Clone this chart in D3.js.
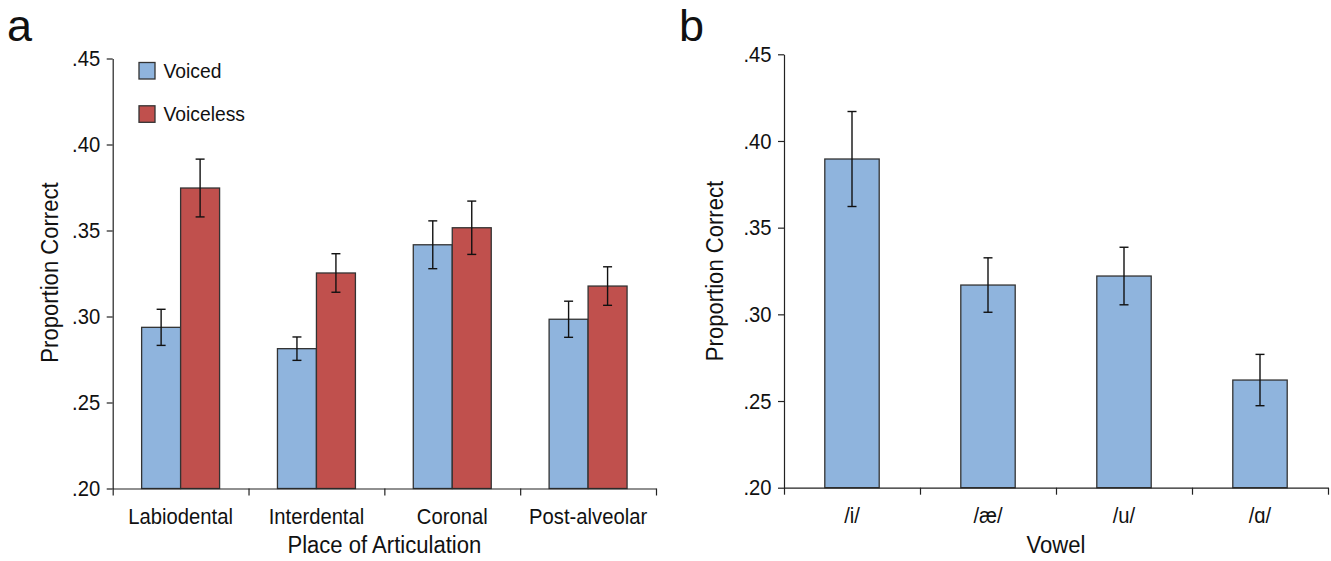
<!DOCTYPE html>
<html>
<head>
<meta charset="utf-8">
<script src="https://d3js.org/d3.v7.min.js"></script>
<style>
  body { margin: 0; background: #fff; }
  svg { font-family: "Liberation Sans", Arial, sans-serif; }
  .axis path, .axis line { stroke: #222; stroke-width: 1.2; }
  .axis text { font-size: 22px; fill: #111; font-family: "Liberation Sans", Arial, sans-serif; }
</style>
</head>
<body>
<svg id="chart" width="1331" height="561"></svg>
<script>
// Data
const places = ['Labiodental', 'Interdental', 'Coronal', 'Post-alveolar'];
const series = ['Voiced', 'Voiceless'];
const voicedMean = [0.2937, 0.2813, 0.3417, 0.2984];
const voicedErr = [0.0105, 0.0068, 0.0139, 0.0105];
const voicelessMean = [0.3747, 0.3253, 0.3516, 0.3177];
const voicelessErr = [0.0168, 0.0112, 0.0155, 0.0112];

const vowels = ['/i/', '/æ/', '/u/', '/ɑ/'];
const vowelMean = [0.3896, 0.3169, 0.3221, 0.2621];
const vowelErr = [0.0274, 0.0157, 0.0166, 0.0148];

const yTicks = [0.20, 0.25, 0.30, 0.35, 0.40, 0.45];

const colors = { Voiced: '#8fb4dd', Voiceless: '#c0504d' };
const fmt = d => d3.format('.2f')(d).replace(/^0/, '');

// squeeze text horizontally around its own anchor point (condensed look)
function squeeze(sel, k = 0.92) {
    sel.each(function() {
        const t = d3.select(this);
        const x = +(t.attr('x') || 0);
        const prev = t.attr('transform') || '';
        t.attr('transform', `${prev} translate(${x},0) scale(${k},1) translate(${-x},0)`);
    });
}

const svg = d3.select('#chart');

// ---------- panel a ----------
const a = { left: 112.7, right: 656, top: 58.5, bottom: 488.5 };

const yA = d3.scaleLinear().domain([0.20, 0.45]).range([a.bottom, a.top]);
const xA = d3.scaleBand().domain(places).range([a.left, a.right])
    .paddingInner(0.426).paddingOuter(0.213);
const xSub = d3.scaleBand().domain(series).range([0, xA.bandwidth()]);
const xTicksA = d3.scaleLinear().domain([0, places.length]).range([a.left, a.right]);

const dataA = [];
places.forEach((p, i) => {
    dataA.push({ place: p, s: 'Voiced', v: voicedMean[i], e: voicedErr[i] });
    dataA.push({ place: p, s: 'Voiceless', v: voicelessMean[i], e: voicelessErr[i] });
});

const gA = svg.append('g');

gA.append('g')
    .selectAll('rect')
    .data(dataA)
    .join('rect')
    .attr('x', d => xA(d.place) + xSub(d.s))
    .attr('y', d => yA(d.v))
    .attr('width', xSub.bandwidth())
    .attr('height', d => yA(0.20) - yA(d.v))
    .attr('fill', d => colors[d.s])
    .attr('stroke', '#333')
    .attr('stroke-width', 1.3);

// error bars
const errA = gA.append('g').selectAll('g').data(dataA).join('g')
    .attr('transform', d => `translate(${xA(d.place) + xSub(d.s) + xSub.bandwidth() / 2},0)`);
errA.append('line')
    .attr('y1', d => yA(d.v + d.e)).attr('y2', d => yA(d.v - d.e))
    .attr('stroke', '#111').attr('stroke-width', 1.4);
errA.selectAll('line.cap')
    .data(d => [d.v + d.e, d.v - d.e])
    .join('line').attr('class', 'cap')
    .attr('x1', -4.5).attr('x2', 4.5)
    .attr('y1', d => yA(d)).attr('y2', d => yA(d))
    .attr('stroke', '#111').attr('stroke-width', 1.4);

// axes
gA.append('g').attr('class', 'axis')
    .attr('transform', `translate(${a.left},0)`)
    .call(d3.axisLeft(yA).tickValues(yTicks).tickFormat(fmt).tickSize(6).tickSizeOuter(0).tickPadding(6.5))
    .call(g => squeeze(g.selectAll('text')));

gA.append('g').attr('class', 'axis')
    .attr('transform', `translate(0,${a.bottom})`)
    .call(d3.axisBottom(xTicksA).ticks(places.length).tickFormat('').tickSize(7).tickSizeOuter(0));

gA.append('g').attr('class', 'axis')
    .attr('transform', `translate(0,${a.bottom})`)
    .call(d3.axisBottom(xA).tickSize(0).tickPadding(19.5))
    .call(g => g.select('.domain').remove())
    .call(g => squeeze(g.selectAll('text')));

// legend
const legend = gA.append('g').selectAll('g').data(series).join('g')
    .attr('transform', (d, i) => `translate(139,${62.5 + i * 43.3})`);
legend.append('rect')
    .attr('width', 16).attr('height', 16.5)
    .attr('fill', d => colors[d]).attr('stroke', '#333').attr('stroke-width', 1.3);
legend.append('text')
    .attr('x', 24.5).attr('y', 8.3).attr('dy', '0.35em')
    .attr('font-size', 21).attr('fill', '#111')
    .text(d => d)
    .call(squeeze);

// titles
gA.append('text')
    .attr('transform', `translate(58,272.5) rotate(-90)`)
    .attr('text-anchor', 'middle').attr('font-size', 23).attr('fill', '#111')
    .text('Proportion Correct')
    .call(squeeze, 0.96);
gA.append('text')
    .attr('x', (a.left + a.right) / 2).attr('y', 553.5)
    .attr('text-anchor', 'middle').attr('font-size', 23).attr('fill', '#111')
    .text('Place of Articulation')
    .call(squeeze, 0.96);
svg.append('text').attr('x', 7).attr('y', 41).attr('font-size', 45).attr('fill', '#111').text('a');

// ---------- panel b ----------
const b = { left: 784, right: 1328, top: 54.3, bottom: 487.7 };

const yB = d3.scaleLinear().domain([0.20, 0.45]).range([b.bottom, b.top]);
const xB = d3.scaleBand().domain(vowels).range([b.left, b.right])
    .paddingInner(0.6).paddingOuter(0.3);
const xTicksB = d3.scaleLinear().domain([0, vowels.length]).range([b.left, b.right]);

const dataB = vowels.map((v, i) => ({ vowel: v, v: vowelMean[i], e: vowelErr[i] }));

const gB = svg.append('g');

gB.append('g')
    .selectAll('rect')
    .data(dataB)
    .join('rect')
    .attr('x', d => xB(d.vowel))
    .attr('y', d => yB(d.v))
    .attr('width', xB.bandwidth())
    .attr('height', d => yB(0.20) - yB(d.v))
    .attr('fill', colors.Voiced)
    .attr('stroke', '#333')
    .attr('stroke-width', 1.3);

const errB = gB.append('g').selectAll('g').data(dataB).join('g')
    .attr('transform', d => `translate(${xB(d.vowel) + xB.bandwidth() / 2},0)`);
errB.append('line')
    .attr('y1', d => yB(d.v + d.e)).attr('y2', d => yB(d.v - d.e))
    .attr('stroke', '#111').attr('stroke-width', 1.4);
errB.selectAll('line.cap')
    .data(d => [d.v + d.e, d.v - d.e])
    .join('line').attr('class', 'cap')
    .attr('x1', -4.5).attr('x2', 4.5)
    .attr('y1', d => yB(d)).attr('y2', d => yB(d))
    .attr('stroke', '#111').attr('stroke-width', 1.4);

gB.append('g').attr('class', 'axis')
    .attr('transform', `translate(${b.left},0)`)
    .call(d3.axisLeft(yB).tickValues(yTicks).tickFormat(fmt).tickSize(6).tickSizeOuter(0).tickPadding(6.5))
    .call(g => squeeze(g.selectAll('text')));

gB.append('g').attr('class', 'axis')
    .attr('transform', `translate(0,${b.bottom})`)
    .call(d3.axisBottom(xTicksB).ticks(vowels.length).tickFormat('').tickSize(7).tickSizeOuter(0));

gB.append('g').attr('class', 'axis')
    .attr('transform', `translate(0,${b.bottom})`)
    .call(d3.axisBottom(xB).tickSize(0).tickPadding(19.5))
    .call(g => g.select('.domain').remove())
    .call(g => squeeze(g.selectAll('text')));

gB.append('text')
    .attr('transform', `translate(723,271) rotate(-90)`)
    .attr('text-anchor', 'middle').attr('font-size', 23).attr('fill', '#111')
    .text('Proportion Correct')
    .call(squeeze, 0.96);
gB.append('text')
    .attr('x', (b.left + b.right) / 2).attr('y', 553.5)
    .attr('text-anchor', 'middle').attr('font-size', 23).attr('fill', '#111')
    .text('Vowel')
    .call(squeeze, 0.96);
svg.append('text').attr('x', 679).attr('y', 41).attr('font-size', 45).attr('fill', '#111').text('b');
</script>
</body>
</html>
